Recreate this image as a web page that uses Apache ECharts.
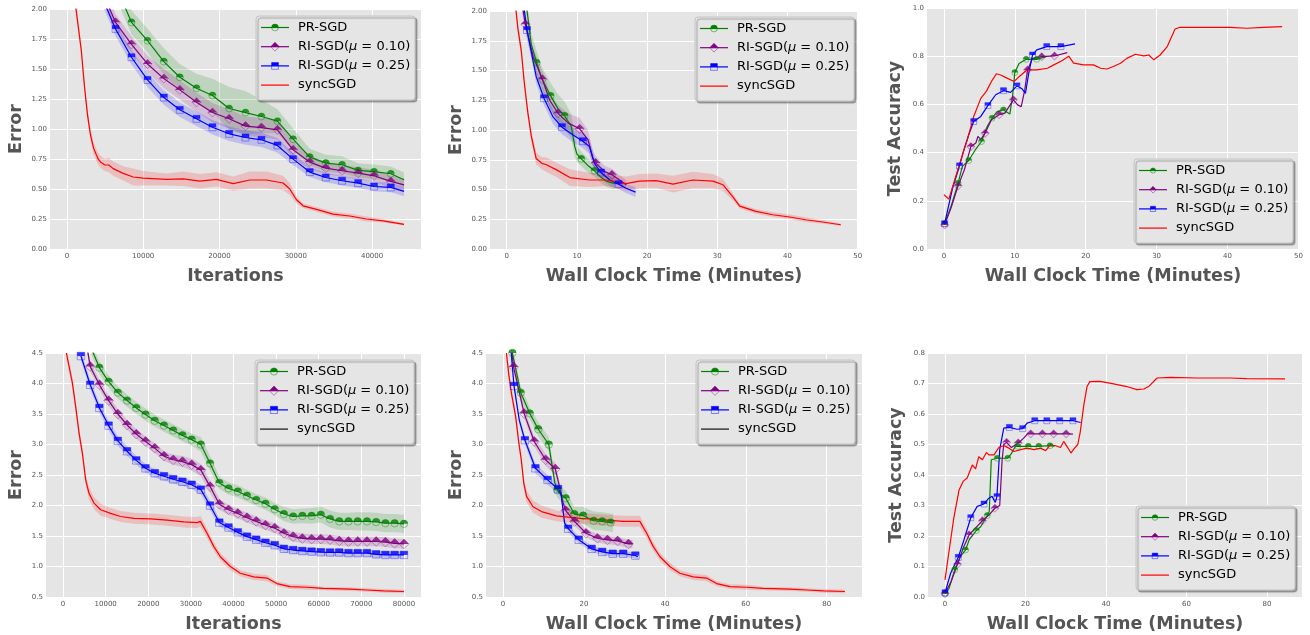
<!DOCTYPE html>
<html><head><meta charset="utf-8">
<script src="https://cdn.jsdelivr.net/npm/echarts@6/dist/echarts.min.js"></script>
<style>html,body{margin:0;padding:0;background:#fff}#c{width:1310px;height:635px}</style>
</head><body><div id="c"></div>
<script>
// ---------------- DATA ----------------
const NAMES = ['PR-SGD', 'RI-SGD(μ = 0.10)', 'RI-SGD(μ = 0.25)', 'syncSGD'];
const P1_XTICKS = [0, 10000, 20000, 30000, 40000];
const P2_XTICKS = [0, 10, 20, 30, 40, 50];
const P3_XTICKS = [0, 10, 20, 30, 40, 50];
const P4_XTICKS = [0, 10000, 20000, 30000, 40000, 50000, 60000, 70000, 80000];
const P5_XTICKS = [0, 20, 40, 60, 80];
const P6_XTICKS = [0, 20, 40, 60, 80];

// Panel 1: error vs iterations (top-left)
const P1_X = [4800, 6380, 8470, 10570, 12710, 14800, 16990, 19080, 21270, 23410, 25500, 27600, 29650, 31830, 33930, 36070, 38170, 40260, 42450, 44190];
const P1_PR = [2.45, 2.2, 1.889, 1.736, 1.562, 1.431, 1.340, 1.279, 1.171, 1.137, 1.104, 1.065, 0.915, 0.766, 0.716, 0.702, 0.655, 0.644, 0.627, 0.577];
const P1_PR_B = [0.1, 0.1, 0.1, 0.1, 0.11, 0.11, 0.12, 0.14, 0.18, 0.18, 0.14, 0.1, 0.09, 0.07, 0.07, 0.07, 0.06, 0.06, 0.06, 0.06];
const P1_PR_M = [2, 3, 4, 5, 6, 7, 8, 9, 10, 11, 12, 13, 14, 15, 16, 17, 18];
const P1_RI10 = [2.12, 1.889, 1.706, 1.542, 1.420, 1.326, 1.223, 1.137, 1.085, 1.024, 1.012, 0.993, 0.827, 0.724, 0.674, 0.652, 0.632, 0.610, 0.563, 0.535];
const P1_RI10_B = [0.07, 0.07, 0.07, 0.07, 0.08, 0.08, 0.08, 0.08, 0.08, 0.08, 0.08, 0.08, 0.07, 0.06, 0.05, 0.05, 0.05, 0.05, 0.05, 0.05];
const P1_RI10_M = [1, 2, 3, 4, 5, 6, 7, 8, 9, 10, 11, 12, 13, 14, 15, 16, 17, 18];
const P1_RI25 = [2.07, 1.834, 1.598, 1.409, 1.262, 1.160, 1.085, 1.015, 0.960, 0.929, 0.910, 0.863, 0.749, 0.641, 0.596, 0.569, 0.549, 0.521, 0.513, 0.480];
const P1_RI25_B = [0.06, 0.06, 0.06, 0.06, 0.06, 0.06, 0.06, 0.06, 0.06, 0.06, 0.06, 0.06, 0.05, 0.04, 0.04, 0.04, 0.04, 0.04, 0.04, 0.04];
const P1_RI25_M = [1, 2, 3, 4, 5, 6, 7, 8, 9, 10, 11, 12, 13, 14, 15, 16, 17, 18];
const P1_SYNC_X = [1100, 1500, 1900, 2300, 2700, 3100, 3500, 4100, 4500, 4980, 5500, 6070, 7380, 8690, 10000, 13060, 15240, 17420, 19610, 21790, 23970, 26160, 28340, 29210, 30090, 30960, 32710, 34890, 37070, 39260, 41440, 44190];
const P1_SYNC = [2.05, 1.85, 1.65, 1.36, 1.12, 0.95, 0.84, 0.75, 0.72, 0.70, 0.70, 0.67, 0.63, 0.60, 0.59, 0.58, 0.585, 0.565, 0.58, 0.545, 0.575, 0.575, 0.55, 0.50, 0.41, 0.36, 0.33, 0.29, 0.275, 0.25, 0.235, 0.205];
const P1_SYNC_B = [0.05, 0.05, 0.05, 0.05, 0.05, 0.05, 0.05, 0.05, 0.05, 0.05, 0.06, 0.06, 0.06, 0.07, 0.06, 0.05, 0.06, 0.06, 0.06, 0.06, 0.07, 0.07, 0.06, 0.05, 0.03, 0.02, 0.02, 0.02, 0.02, 0.02, 0.015, 0.01];

// Panel 2: error vs wall clock (top-middle)
const P2_PR_X = [2.5, 2.9, 3.5, 4.27, 5.0, 6.26, 7.3, 8.25, 9.2, 9.7, 10.0, 10.63, 11.6, 12.52, 13.3, 14.2, 15.4];
const P2_PR = [2.2, 2.0, 1.72, 1.566, 1.43, 1.287, 1.18, 1.119, 1.03, 0.86, 0.80, 0.758, 0.70, 0.657, 0.61, 0.57, 0.55];
const P2_PR_B = [0.08, 0.08, 0.09, 0.1, 0.1, 0.11, 0.12, 0.12, 0.1, 0.08, 0.07, 0.06, 0.06, 0.05, 0.05, 0.05, 0.05];
const P2_PR_M = [3, 5, 7, 11, 13];
const P2_RI10_X = [2.2, 2.66, 3.75, 5.08, 6.12, 7.31, 8.73, 10.39, 11.57, 12.29, 12.67, 13.95, 14.99, 16.08, 17.03];
const P2_RI10 = [2.05, 1.888, 1.62, 1.427, 1.25, 1.141, 1.06, 1.01, 0.92, 0.76, 0.722, 0.65, 0.624, 0.58, 0.54];
const P2_RI10_B = [0.07, 0.07, 0.07, 0.07, 0.07, 0.07, 0.08, 0.09, 0.08, 0.07, 0.06, 0.05, 0.05, 0.04, 0.04];
const P2_RI10_M = [1, 3, 5, 7, 10, 12];
const P2_RI25_X = [2.3, 2.89, 4.2, 5.31, 6.6, 7.87, 9.4, 10.86, 11.8, 12.5, 13.43, 14.7, 15.94, 17.0, 18.36];
const P2_RI25 = [2.1, 1.84, 1.45, 1.267, 1.11, 1.024, 0.96, 0.906, 0.86, 0.72, 0.643, 0.58, 0.545, 0.51, 0.478];
const P2_RI25_B = [0.06, 0.06, 0.06, 0.06, 0.06, 0.06, 0.06, 0.06, 0.06, 0.05, 0.05, 0.05, 0.04, 0.04, 0.04];
const P2_RI25_M = [1, 3, 5, 7, 10, 12];
const P2_SYNC_X = [1.28, 1.6, 2.09, 2.5, 3.0, 3.5, 4.2, 5.0, 5.6, 7.1, 9.0, 11.8, 14.2, 17.0, 18.9, 21.3, 23.7, 26.5, 29.4, 30.8, 32.2, 33.2, 35.5, 37.9, 40.3, 42.6, 45.0, 47.6];
const P2_SYNC = [2.03, 1.85, 1.66, 1.40, 1.15, 0.95, 0.76, 0.72, 0.71, 0.665, 0.60, 0.58, 0.58, 0.55, 0.57, 0.575, 0.545, 0.58, 0.57, 0.54, 0.44, 0.36, 0.316, 0.288, 0.269, 0.246, 0.227, 0.204];
const P2_SYNC_B = [0.05, 0.05, 0.05, 0.05, 0.05, 0.05, 0.05, 0.05, 0.06, 0.06, 0.07, 0.06, 0.05, 0.06, 0.06, 0.06, 0.07, 0.07, 0.06, 0.05, 0.03, 0.02, 0.02, 0.02, 0.02, 0.02, 0.015, 0.01];

// Panel 3: test accuracy vs wall clock (top-right)
const P3_PR_X = [0.1, 1.0, 2.0, 2.6, 3.5, 4.4, 5.3, 6.1, 6.8, 7.5, 8.4, 9.3, 9.7, 10.0, 10.6, 11.6, 13.1, 14.4];
const P3_PR = [0.105, 0.177, 0.273, 0.343, 0.367, 0.41, 0.446, 0.508, 0.543, 0.57, 0.577, 0.56, 0.64, 0.732, 0.77, 0.787, 0.787, 0.798];
const P3_PR_M = [0, 2, 4, 6, 8, 10, 13, 15, 16];
const P3_RI10_X = [0.1, 1.0, 2.0, 2.9, 3.8, 4.5, 4.8, 5.2, 5.8, 6.7, 7.8, 8.6, 9.8, 10.4, 10.9, 11.4, 11.8, 12.5, 13.8, 15.6, 17.4];
const P3_RI10 = [0.10, 0.17, 0.262, 0.33, 0.425, 0.44, 0.467, 0.455, 0.48, 0.536, 0.557, 0.564, 0.619, 0.598, 0.59, 0.66, 0.743, 0.79, 0.798, 0.801, 0.815];
const P3_RI10_M = [0, 2, 4, 8, 10, 12, 16, 18, 19];
const P3_RI25_X = [0.1, 1.2, 2.2, 2.8, 3.5, 4.2, 5.2, 6.2, 7.3, 8.4, 9.4, 10.3, 11.0, 11.5, 12.0, 12.5, 13.1, 14.5, 16.5, 18.5];
const P3_RI25 = [0.105, 0.25, 0.345, 0.41, 0.474, 0.529, 0.55, 0.595, 0.64, 0.657, 0.65, 0.677, 0.665, 0.646, 0.736, 0.805, 0.826, 0.84, 0.84, 0.851];
const P3_RI25_M = [0, 2, 5, 7, 9, 11, 15, 17, 18];
const P3_SYNC_X = [0, 0.7, 2.1, 3.3, 4.2, 5.2, 6.0, 6.8, 7.4, 8.0, 8.9, 9.9, 10.6, 11.7, 13.1, 14.6, 15.5, 16.7, 17.6, 18.3, 19.7, 21.1, 22.1, 23.0, 23.9, 24.9, 25.8, 27.0, 28.2, 28.9, 29.6, 30.5, 31.5, 32.6, 33.3, 35.7, 38.0, 40.4, 42.7, 45.1, 47.7];
const P3_SYNC = [0.225, 0.207, 0.343, 0.453, 0.55, 0.625, 0.655, 0.70, 0.727, 0.722, 0.709, 0.695, 0.715, 0.743, 0.743, 0.75, 0.764, 0.782, 0.80, 0.771, 0.764, 0.764, 0.75, 0.747, 0.757, 0.771, 0.791, 0.808, 0.801, 0.805, 0.785, 0.805, 0.84, 0.913, 0.92, 0.92, 0.92, 0.92, 0.916, 0.92, 0.923];

// Panel 4: error vs iterations (bottom-left)
const P4_X = [4200, 6370, 8530, 10700, 12860, 15030, 17190, 19360, 21520, 23690, 25850, 28020, 30180, 32350, 34510, 36680, 38840, 41010, 43170, 45340, 47500, 49670, 51830, 54000, 56160, 58330, 60490, 62660, 64820, 66990, 69150, 71320, 73480, 75650, 77810, 80000];
const P4_PR = [5.0, 4.62, 4.26, 4.03, 3.85, 3.72, 3.60, 3.49, 3.39, 3.31, 3.23, 3.15, 3.08, 3.0, 2.69, 2.37, 2.28, 2.23, 2.16, 2.09, 2.03, 1.94, 1.86, 1.82, 1.83, 1.83, 1.85, 1.78, 1.74, 1.74, 1.74, 1.74, 1.73, 1.71, 1.71, 1.70];
const P4_PR_B = [0.1, 0.1, 0.1, 0.1, 0.1, 0.1, 0.1, 0.1, 0.1, 0.1, 0.1, 0.1, 0.1, 0.12, 0.12, 0.1, 0.1, 0.1, 0.1, 0.1, 0.1, 0.1, 0.12, 0.12, 0.12, 0.13, 0.13, 0.14, 0.14, 0.14, 0.15, 0.15, 0.15, 0.15, 0.15, 0.15];
const P4_PR_M = [2, 3, 4, 5, 6, 7, 8, 9, 10, 11, 12, 13, 14, 15, 16, 17, 18, 19, 20, 21, 22, 23, 24, 25, 26, 27, 28, 29, 30, 31, 32, 33, 34, 35];
const P4_RI10 = [5.2, 4.28, 3.98, 3.72, 3.50, 3.32, 3.17, 3.05, 2.94, 2.81, 2.75, 2.72, 2.67, 2.58, 2.31, 2.02, 1.93, 1.87, 1.80, 1.74, 1.68, 1.63, 1.545, 1.49, 1.46, 1.45, 1.45, 1.44, 1.42, 1.41, 1.41, 1.41, 1.41, 1.40, 1.38, 1.37];
const P4_RI10_B = [0.08, 0.08, 0.08, 0.08, 0.08, 0.08, 0.08, 0.08, 0.08, 0.08, 0.08, 0.09, 0.1, 0.1, 0.1, 0.09, 0.08, 0.08, 0.08, 0.08, 0.08, 0.08, 0.08, 0.08, 0.08, 0.08, 0.08, 0.08, 0.08, 0.08, 0.08, 0.08, 0.08, 0.08, 0.08, 0.08];
const P4_RI10_M = [1, 2, 3, 4, 5, 6, 7, 8, 9, 10, 11, 12, 13, 14, 15, 16, 17, 18, 19, 20, 21, 22, 23, 24, 25, 26, 27, 28, 29, 30, 31, 32, 33, 34, 35];
const P4_RI25 = [4.45, 3.98, 3.60, 3.31, 3.06, 2.89, 2.74, 2.61, 2.53, 2.48, 2.43, 2.39, 2.34, 2.26, 2.0, 1.72, 1.64, 1.56, 1.49, 1.44, 1.39, 1.35, 1.29, 1.27, 1.255, 1.245, 1.235, 1.23, 1.23, 1.22, 1.22, 1.22, 1.20, 1.19, 1.19, 1.19];
const P4_RI25_B = [0.08, 0.08, 0.08, 0.08, 0.08, 0.08, 0.07, 0.07, 0.07, 0.07, 0.07, 0.07, 0.07, 0.08, 0.08, 0.07, 0.06, 0.06, 0.06, 0.06, 0.06, 0.06, 0.06, 0.06, 0.06, 0.06, 0.06, 0.06, 0.06, 0.06, 0.06, 0.06, 0.06, 0.06, 0.06, 0.06];
const P4_RI25_M = [0, 1, 2, 3, 4, 5, 6, 7, 8, 9, 10, 11, 12, 13, 14, 15, 16, 17, 18, 19, 20, 21, 22, 23, 24, 25, 26, 27, 28, 29, 30, 31, 32, 33, 34, 35];
const P4_SYNC_X = [780, 1500, 2190, 3000, 3750, 4530, 5310, 6090, 7260, 8820, 11160, 13500, 16620, 20530, 24430, 28330, 31450, 32230, 33800, 35360, 36920, 39260, 41600, 44720, 47840, 50180, 53300, 57200, 61100, 67350, 71250, 75160, 80000];
const P4_SYNC = [4.5, 4.25, 4.01, 3.6, 3.19, 2.86, 2.42, 2.20, 2.04, 1.93, 1.87, 1.82, 1.79, 1.78, 1.76, 1.73, 1.72, 1.74, 1.545, 1.33, 1.16, 1.0, 0.89, 0.83, 0.81, 0.72, 0.67, 0.66, 0.64, 0.63, 0.615, 0.60, 0.59];
const P4_SYNC_B = [0.1, 0.1, 0.1, 0.1, 0.1, 0.1, 0.1, 0.1, 0.1, 0.1, 0.09, 0.09, 0.09, 0.09, 0.09, 0.09, 0.09, 0.09, 0.08, 0.07, 0.06, 0.06, 0.05, 0.05, 0.05, 0.04, 0.04, 0.04, 0.03, 0.03, 0.03, 0.03, 0.03];

// Panel 5: error vs wall clock (bottom-middle)
const P5_PR_X = [2.0, 2.3, 4.37, 6.6, 8.7, 11.3, 12.0, 12.8, 13.4, 14.3, 15.5, 17.6, 19.8, 22.4, 24.5, 26.6, 27.2];
const P5_PR = [4.75, 4.5, 3.85, 3.51, 3.25, 3.0, 2.7, 2.37, 2.25, 2.18, 2.12, 1.86, 1.835, 1.75, 1.74, 1.72, 1.71];
const P5_PR_B = [0.1, 0.1, 0.1, 0.1, 0.12, 0.12, 0.12, 0.12, 0.12, 0.12, 0.12, 0.12, 0.14, 0.15, 0.15, 0.15, 0.15];
const P5_PR_M = [1, 2, 3, 4, 5, 8, 10, 11, 12, 13, 14, 15];
const P5_RI10_X = [2.0, 2.6, 5.2, 7.7, 10.5, 12.9, 13.8, 14.8, 15.5, 17.7, 20.5, 23.3, 25.8, 28.3, 31.0, 32.0];
const P5_RI10 = [4.6, 4.27, 3.51, 3.05, 2.75, 2.60, 2.35, 2.05, 1.917, 1.737, 1.545, 1.463, 1.436, 1.419, 1.37, 1.37];
const P5_RI10_B = [0.08, 0.08, 0.08, 0.08, 0.1, 0.1, 0.09, 0.08, 0.08, 0.07, 0.07, 0.07, 0.07, 0.07, 0.07, 0.07];
const P5_RI10_M = [1, 2, 3, 4, 5, 8, 9, 10, 11, 12, 13, 14];
const P5_RI25_X = [2.0, 2.7, 4.0, 5.4, 8.0, 11.0, 13.6, 14.3, 15.2, 16.1, 18.7, 21.9, 24.5, 27.1, 29.7, 32.7, 33.3];
const P5_RI25 = [4.5, 3.96, 3.4, 3.07, 2.61, 2.42, 2.27, 2.2, 1.71, 1.62, 1.44, 1.29, 1.24, 1.21, 1.21, 1.18, 1.16];
const P5_RI25_B = [0.07, 0.07, 0.07, 0.07, 0.08, 0.08, 0.07, 0.07, 0.06, 0.06, 0.06, 0.05, 0.05, 0.05, 0.05, 0.05, 0.05];
const P5_RI25_M = [1, 3, 4, 5, 6, 9, 10, 11, 12, 13, 14, 15];
const P5_SYNC_X = [0.82, 1.4, 2.06, 3.1, 3.9, 4.5, 5.1, 5.8, 7.4, 9.5, 13.2, 16.0, 19.0, 21.4, 25.6, 29.7, 33.8, 35.5, 37.1, 38.8, 41.2, 43.7, 47.0, 50.3, 52.8, 56.1, 60.2, 64.3, 70.9, 75.1, 79.2, 84.5];
const P5_SYNC = [4.5, 4.15, 3.84, 3.46, 3.02, 2.75, 2.37, 2.15, 1.98, 1.90, 1.83, 1.81, 1.79, 1.78, 1.76, 1.74, 1.74, 1.545, 1.33, 1.16, 1.0, 0.89, 0.83, 0.81, 0.72, 0.67, 0.66, 0.64, 0.63, 0.615, 0.60, 0.59];
const P5_SYNC_B = [0.1, 0.1, 0.1, 0.1, 0.1, 0.1, 0.1, 0.1, 0.1, 0.1, 0.09, 0.09, 0.09, 0.09, 0.09, 0.09, 0.09, 0.08, 0.07, 0.06, 0.06, 0.05, 0.05, 0.05, 0.04, 0.04, 0.04, 0.03, 0.03, 0.03, 0.03, 0.03];

// Panel 6: test accuracy vs wall clock (bottom-right)
const P6_PR_X = [0, 1.0, 2.4, 3.8, 5.1, 6.0, 7.8, 8.9, 10.5, 11.0, 11.5, 13.0, 15.6, 16.5, 17.5, 18.1, 20.7, 23.3, 26.1, 27.2];
const P6_PR = [0.01, 0.028, 0.089, 0.132, 0.154, 0.187, 0.218, 0.231, 0.267, 0.28, 0.45, 0.455, 0.455, 0.47, 0.494, 0.494, 0.494, 0.494, 0.496, 0.494];
const P6_PR_M = [0, 2, 4, 6, 8, 11, 12, 15, 16, 17, 18];
const P6_RI10_X = [0, 1.5, 3.1, 4.5, 6.0, 7.5, 9.3, 11.0, 12.4, 13.6, 14.2, 14.6, 15.3, 16.5, 18.2, 19.5, 20.5, 21.3, 24.2, 27.0, 30.1, 31.8];
const P6_RI10 = [0.012, 0.05, 0.107, 0.16, 0.204, 0.225, 0.25, 0.27, 0.291, 0.30, 0.45, 0.50, 0.507, 0.49, 0.505, 0.52, 0.535, 0.535, 0.535, 0.535, 0.535, 0.534];
const P6_RI10_M = [0, 2, 4, 6, 8, 12, 14, 17, 18, 19, 20];
const P6_RI25_X = [0, 1.4, 3.3, 4.7, 6.4, 8.0, 9.7, 10.9, 11.7, 12.5, 12.9, 13.6, 14.6, 16.0, 17.9, 19.3, 20.4, 22.3, 25.3, 28.5, 31.8, 33.7];
const P6_RI25 = [0.014, 0.078, 0.13, 0.187, 0.26, 0.297, 0.305, 0.324, 0.33, 0.31, 0.329, 0.483, 0.554, 0.556, 0.55, 0.552, 0.57, 0.578, 0.578, 0.578, 0.578, 0.572];
const P6_RI25_M = [0, 2, 4, 6, 10, 13, 15, 17, 18, 19, 20];
const P6_SYNC_X = [0, 1.0, 2.2, 3.5, 4.5, 5.5, 6.8, 7.6, 8.4, 9.3, 10.3, 10.9, 12.2, 13.4, 14.6, 15.9, 17.1, 18.8, 20.4, 22.1, 23.7, 25.0, 26.2, 27.5, 28.7, 29.5, 30.5, 31.3, 32.0, 33.0, 33.6, 34.5, 35.3, 36.0, 38.6, 41.9, 45.2, 47.7, 49.4, 50.6, 52.7, 56.0, 62.6, 70.9, 75.0, 84.5];
const P6_SYNC = [0.056, 0.15, 0.26, 0.351, 0.379, 0.39, 0.433, 0.42, 0.46, 0.45, 0.474, 0.466, 0.466, 0.491, 0.496, 0.488, 0.477, 0.483, 0.488, 0.483, 0.488, 0.48, 0.499, 0.496, 0.49, 0.51, 0.49, 0.472, 0.485, 0.50, 0.54, 0.63, 0.69, 0.706, 0.707, 0.699, 0.69, 0.68, 0.682, 0.69, 0.718, 0.72, 0.718, 0.718, 0.716, 0.715];

// ---------------- STYLE / LAYOUT ----------------
const FONT = 'DejaVu Sans';
const COLOR = ['#008000', '#800080', '#0000ff', '#ff0000'];
const LIGHT = ['rgba(0,128,0,0.5)', 'rgba(128,0,128,0.45)', 'rgba(0,0,255,0.45)', 'rgba(255,0,0,0.5)'];
const BANDC = ['rgba(0,128,0,0.17)', 'rgba(128,0,128,0.17)', 'rgba(0,0,255,0.17)', 'rgba(255,0,0,0.17)'];
const SHAPE = ['circle', 'diamond', 'rect', null];
const HALF = {
  circle: 'path://M0,10A10,10 0 0 1 20,10Z',
  diamond: 'path://M0,10L10,0L20,10Z',
  rect: 'path://M0,0L20,0L20,10L0,10Z'
};

const PANELS = [
  { grid: {left: 50, top: 9, width: 371, height: 240}, xmin: -2210, xmax: 46410, xticks: P1_XTICKS, xname: 'Iterations',
    ymin: 0, ymax: 2, yint: 0.25, ydec: 2, yname: 'Error', yGap: 25, ms: 7, legend: [256, 16], lm: 3.4, syncLegend: null,
    s: [[P1_X, P1_PR, P1_PR_B, P1_PR_M], [P1_X, P1_RI10, P1_RI10_B, P1_RI10_M], [P1_X, P1_RI25, P1_RI25_B, P1_RI25_M], [P1_SYNC_X, P1_SYNC, P1_SYNC_B, null]] },
  { grid: {left: 490, top: 11, width: 368, height: 238}, xmin: -2.38, xmax: 50.05, xticks: P2_XTICKS, xname: 'Wall Clock Time (Minutes)',
    ymin: 0, ymax: 2, yint: 0.25, ydec: 2, yname: 'Error', yGap: 25, ms: 7, legend: [695, 17], lm: 3.4, syncLegend: null,
    s: [[P2_PR_X, P2_PR, P2_PR_B, P2_PR_M], [P2_RI10_X, P2_RI10, P2_RI10_B, P2_RI10_M], [P2_RI25_X, P2_RI25, P2_RI25_B, P2_RI25_M], [P2_SYNC_X, P2_SYNC, P2_SYNC_B, null]] },
  { grid: {left: 927, top: 8, width: 372, height: 241}, xmin: -2.385, xmax: 50.08, xticks: P3_XTICKS, xname: 'Wall Clock Time (Minutes)',
    ymin: 0, ymax: 1, yint: 0.2, ydec: 1, yname: 'Test Accuracy', yGap: 23, ms: 6, legend: [1134, 159], lm: 2.6, syncLegend: null,
    s: [[P3_PR_X, P3_PR, null, P3_PR_M], [P3_RI10_X, P3_RI10, null, P3_RI10_M], [P3_RI25_X, P3_RI25, null, P3_RI25_M], [P3_SYNC_X, P3_SYNC, null, null]] },
  { grid: {left: 46, top: 353, width: 375, height: 244}, xmin: -4000, xmax: 84000, xticks: P4_XTICKS, xname: 'Iterations',
    ymin: 0.5, ymax: 4.5, yint: 0.5, ydec: 1, yname: 'Error', yGap: 21, ms: 7.5, legend: [255, 360], lm: 3.6, syncLegend: '#111111',
    s: [[P4_X, P4_PR, P4_PR_B, P4_PR_M], [P4_X, P4_RI10, P4_RI10_B, P4_RI10_M], [P4_X, P4_RI25, P4_RI25_B, P4_RI25_M], [P4_SYNC_X, P4_SYNC, P4_SYNC_B, null]] },
  { grid: {left: 486, top: 353, width: 376, height: 244}, xmin: -4.225, xmax: 88.725, xticks: P5_XTICKS, xname: 'Wall Clock Time (Minutes)',
    ymin: 0.5, ymax: 4.5, yint: 0.5, ydec: 1, yname: 'Error', yGap: 21, ms: 7.5, legend: [696, 360], lm: 3.6, syncLegend: '#111111',
    s: [[P5_PR_X, P5_PR, P5_PR_B, P5_PR_M], [P5_RI10_X, P5_RI10, P5_RI10_B, P5_RI10_M], [P5_RI25_X, P5_RI25, P5_RI25_B, P5_RI25_M], [P5_SYNC_X, P5_SYNC, P5_SYNC_B, null]] },
  { grid: {left: 928, top: 353, width: 374, height: 244}, xmin: -4.225, xmax: 88.725, xticks: P6_XTICKS, xname: 'Wall Clock Time (Minutes)',
    ymin: 0, ymax: 0.8, yint: 0.1, ydec: 1, yname: 'Test Accuracy', yGap: 23, ms: 6, legend: [1136, 506], lm: 2.8, syncLegend: null,
    s: [[P6_PR_X, P6_PR, null, P6_PR_M], [P6_RI10_X, P6_RI10, null, P6_RI10_M], [P6_RI25_X, P6_RI25, null, P6_RI25_M], [P6_SYNC_X, P6_SYNC, null, null]] }
];

const nameStyle = {fontFamily: FONT, fontWeight: 'bold', fontSize: 17.5, color: '#555555'};
const tickStyle = {fontFamily: FONT, fontSize: 7, color: '#555555'};

// legend box drawn as graphic (line sample + half-filled marker + label)
function legendBox(p) {
  const W = 159, H = 84, r = p.lm, Z = 100, X0 = p.legend[0], Y0 = p.legend[1];
  const kids = [{
    type: 'rect', z: Z, shape: {x: X0, y: Y0, width: W, height: H, r: 3},
    style: {fill: '#E5E5E5', stroke: '#c4c4c4', lineWidth: 1, shadowColor: 'rgba(0,0,0,0.3)', shadowBlur: 1, shadowOffsetX: 2, shadowOffsetY: 2}
  }];
  NAMES.forEach((n, k) => {
    const cy = Y0 + 11.5 + k * 19.2, cx = X0 + 19;
    const lc = (k === 3 && p.syncLegend) ? p.syncLegend : COLOR[k];
    kids.push({type: 'line', z: Z + 1, shape: {x1: X0 + 5, y1: cy, x2: X0 + 33, y2: cy}, style: {stroke: lc, lineWidth: 1.2}});
    const s = SHAPE[k];
    if (s === 'circle') {
      kids.push({type: 'circle', z: Z + 2, shape: {cx: cx, cy: cy, r: r}, style: {fill: null, stroke: LIGHT[k], lineWidth: 1}});
      kids.push({type: 'sector', z: Z + 3, shape: {cx: cx, cy: cy, r0: 0, r: r, startAngle: Math.PI, endAngle: 2 * Math.PI}, style: {fill: COLOR[k]}});
    } else if (s === 'diamond') {
      const d = r * 1.3;
      kids.push({type: 'polygon', z: Z + 2, shape: {points: [[cx, cy - d], [cx + d, cy], [cx, cy + d], [cx - d, cy]]}, style: {fill: null, stroke: LIGHT[k], lineWidth: 1}});
      kids.push({type: 'polygon', z: Z + 3, shape: {points: [[cx, cy - d], [cx + d, cy], [cx - d, cy]]}, style: {fill: COLOR[k]}});
    } else if (s === 'rect') {
      kids.push({type: 'rect', z: Z + 2, shape: {x: cx - r, y: cy - r, width: 2 * r, height: 2 * r}, style: {fill: null, stroke: LIGHT[k], lineWidth: 1}});
      kids.push({type: 'rect', z: Z + 3, shape: {x: cx - r, y: cy - r, width: 2 * r, height: r}, style: {fill: COLOR[k]}});
    }
    kids.push({type: 'text', z: Z + 4, x: X0 + 42, y: cy, style: {
      text: n.replace('μ', '{i|μ}'), fontFamily: FONT, fontSize: 13, fill: '#000', verticalAlign: 'middle', align: 'left',
      rich: {i: {fontFamily: FONT, fontStyle: 'italic', fontSize: 13, fill: '#000'}}
    }});
  });
  return kids;
}

const grids = [], xAxes = [], yAxes = [], series = [], graphics = [];

PANELS.forEach((p, gi) => {
  grids.push(Object.assign({show: true, backgroundColor: '#E5E5E5', borderWidth: 0}, p.grid));
  xAxes.push({
    gridIndex: gi, type: 'value', min: p.xmin, max: p.xmax,
    axisLine: {show: false}, axisTick: {show: false, customValues: p.xticks},
    axisLabel: Object.assign({customValues: p.xticks, margin: 4, formatter: v => String(v)}, tickStyle),
    splitLine: {show: true, lineStyle: {color: '#ffffff', width: 1}},
    name: p.xname, nameLocation: 'middle', nameGap: 18, nameTextStyle: nameStyle
  });
  yAxes.push({
    gridIndex: gi, type: 'value', min: p.ymin, max: p.ymax, interval: p.yint,
    axisLine: {show: false}, axisTick: {show: false},
    axisLabel: Object.assign({margin: 3, formatter: v => v.toFixed(p.ydec)}, tickStyle),
    splitLine: {show: true, lineStyle: {color: '#ffffff', width: 1}},
    name: p.yname, nameLocation: 'middle', nameGap: p.yGap, nameRotate: 90, nameTextStyle: nameStyle
  });
  // confidence bands
  p.s.forEach((d, k) => {
    const [xs, ys, bs] = d;
    if (!bs) return;
    const data = xs.map((x, j) => [x, ys[j] - bs[j], ys[j] + bs[j]]);
    series.push({
      type: 'custom', name: NAMES[k], xAxisIndex: gi, yAxisIndex: gi, silent: true, clip: true, z: 1,
      data: data, encode: {x: 0, y: [1, 2]},
      renderItem: (params, api) => {
        if (params.dataIndex !== 0) return null;
        const up = data.map(q => api.coord([q[0], q[2]]));
        const lo = data.map(q => api.coord([q[0], q[1]])).reverse();
        return {type: 'polygon', shape: {points: up.concat(lo)}, style: {fill: BANDC[k]}};
      }
    });
  });
  // lines + markers
  p.s.forEach((d, k) => {
    const [xs, ys, bs, mk] = d;
    series.push({
      type: 'line', name: NAMES[k], xAxisIndex: gi, yAxisIndex: gi, z: 3,
      data: xs.map((x, j) => [x, ys[j]]), symbol: 'none', showSymbol: false, clip: true,
      lineStyle: {color: COLOR[k], width: 1.2}, itemStyle: {color: COLOR[k]}
    });
    if (mk) {
      const mdata = mk.map(j => [xs[j], ys[j]]);
      const s = SHAPE[k] === 'diamond' ? p.ms * 1.3 : p.ms;
      series.push({
        type: 'scatter', name: NAMES[k], xAxisIndex: gi, yAxisIndex: gi, z: 4, silent: true,
        data: mdata, symbol: SHAPE[k], symbolSize: s,
        itemStyle: {color: 'rgba(0,0,0,0)', borderColor: LIGHT[k], borderWidth: 1}
      });
      series.push({
        type: 'scatter', name: NAMES[k], xAxisIndex: gi, yAxisIndex: gi, z: 5, silent: true,
        data: mdata, symbol: HALF[SHAPE[k]], symbolSize: [s, s / 2], symbolOffset: [0, -s / 4],
        itemStyle: {color: COLOR[k]}
      });
    }
  });
  legendBox(p).forEach(el => graphics.push(Object.assign({silent: true}, el)));
});

const chart = echarts.init(document.getElementById('c'), null, {renderer: 'canvas', width: 1310, height: 635});
chart.setOption({
  animation: false,
  backgroundColor: '#ffffff',
  grid: grids, xAxis: xAxes, yAxis: yAxes, series: series, graphic: {elements: graphics}
});
</script></body></html>
